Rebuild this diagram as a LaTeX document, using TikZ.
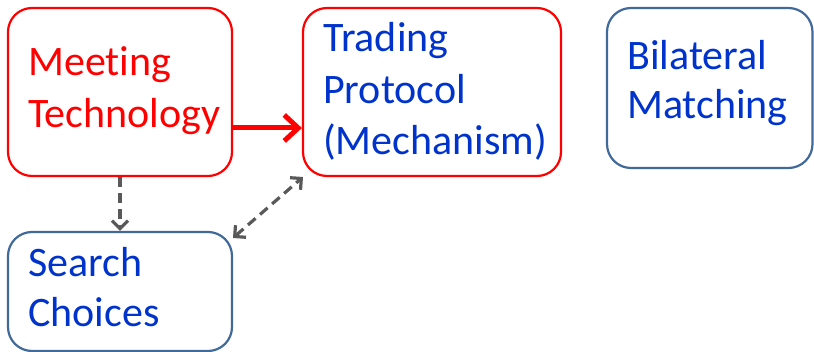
\documentclass[tikz,border=0pt]{standalone}
\usepackage{fontspec}
\setmainfont{Carlito}[Ligatures=NoCommon]
\usetikzlibrary{arrows.meta}
\definecolor{boxred}{HTML}{FF0000}
\definecolor{txtblue}{HTML}{0033CC}
\definecolor{edgeblue}{HTML}{41699A}
\definecolor{arrowgray}{HTML}{595959}
\tikzset{graytip/.tip={Straight Barb[length=8pt,width=16pt]}}
\begin{document}
\begin{tikzpicture}[x=1pt,y=-1pt,
  box/.style={draw, line width=2.2pt, rounded corners=24pt, inner sep=0pt},
  redbox/.style={box, draw=boxred},
  bluebox/.style={box, draw=edgeblue},
  % anchored at the baseline of the last line
  lbl/.style={anchor=base west, inner sep=0pt, align=left,
              font=\fontsize{42}{52}\selectfont},
  redarrow/.style={draw=boxred, line width=5pt,
                   -{Straight Barb[length=14pt,width=26pt]}},
  grayarrow/.style={draw=arrowgray, line width=3.2pt, dash pattern=on 10pt off 6pt}
]
\useasboundingbox (0,0) rectangle (814,352);

% boxes
\node[redbox,  minimum width=224pt,   minimum height=168pt] (meet)  at (120,92)     {};
\node[redbox,  minimum width=258pt,   minimum height=168pt] (trade) at (432,92)     {};
\node[bluebox, minimum width=205.5pt, minimum height=160pt] (bilat) at (709.75,88)  {};
\node[bluebox, minimum width=224pt,   minimum height=119pt] (search) at (120,291.5) {};

% labels
\node[lbl, text=boxred]  (meettxt)   at (28,128)  {Meeting\\Technology};
\node[lbl, text=txtblue, font=\fontsize{42}{51.5}\selectfont] (tradetxt) at (323,155) {Trading\\Protocol\\(Mechanism)};
\node[lbl, text=txtblue, font=\fontsize{42}{49}\selectfont] (bilattxt) at (627,119) {Bilateral\\Matching};
\node[lbl, text=txtblue, font=\fontsize{42}{50}\selectfont] (searchtxt) at (28,327) {Search\\Choices};

% connectors
\coordinate (ra) at (232,128);
\draw[redarrow] (ra) -- (ra -| trade.west);

\draw[grayarrow, -{graytip}] (meet.south) -- (search.north);

\coordinate (sc) at (233,238);
\coordinate (tc) at (303,177);
\draw[grayarrow, {graytip}-{graytip}] (sc) -- (tc);
\end{tikzpicture}
\end{document}
